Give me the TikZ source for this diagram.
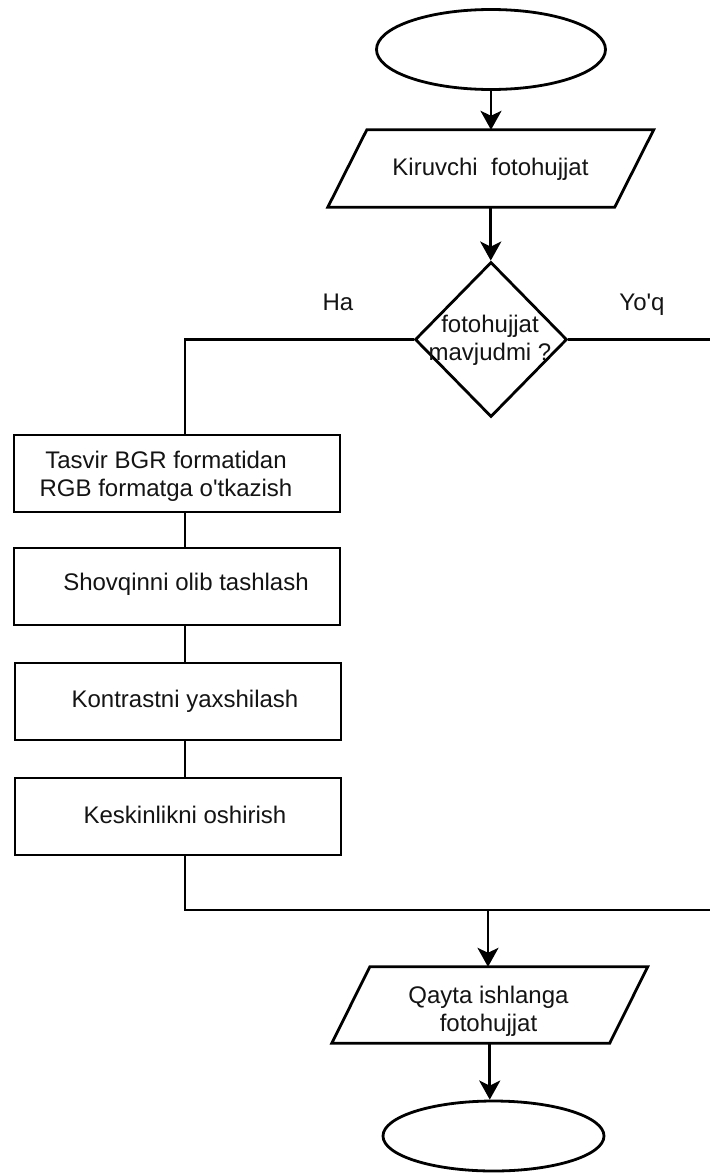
\documentclass[tikz,border=0pt]{standalone}
\usepackage{fontspec}
\setmainfont{Liberation Sans}[Ligatures=TeXOff]
\usetikzlibrary{shapes.geometric,arrows.meta}
\begin{document}
\begin{tikzpicture}[x=1pt,y=-1pt,
  line/.style={line width=2.8pt, draw=black},
  arr/.style={line, -{Stealth[length=19pt,width=21pt,inset=5pt]}},
  term/.style={ellipse, line, minimum width=229pt, minimum height=80pt, inner sep=0pt},
  proc/.style={rectangle, line, minimum width=326pt, minimum height=77pt, inner sep=0pt},
  dec/.style={diamond, line, minimum width=152pt, minimum height=155pt, inner sep=0pt},
  io/.style={rectangle, draw=none, inner sep=0pt},
  txt/.style={font=\fontsize{24}{28}\selectfont, text=black!92, inner sep=0pt, align=center},
  lbl/.style={txt, anchor=base}]
\useasboundingbox[fill=white] (0,0) rectangle (710,1173);

% start
\node[term] (s) at (491,49.5) {};

% input
\node[io, minimum width=286.5pt, minimum height=77pt] (p1) at (490.75,168.5) {};
\draw[line] ([xshift=19.5pt]p1.north west) -- ([xshift=19.5pt]p1.north east)
  -- ([xshift=-19.5pt]p1.south east) -- ([xshift=-19.5pt]p1.south west) -- cycle;
\node[lbl] (t1) at (490.5,175) {Kiruvchi\ \ fotohujjat};

% decision
\node[dec] (d) at (491,339.5) {};
\node[txt] (t2) at (490,340) {fotohujjat\\mavjudmi ?};
\node[lbl] (ha) at (338,310) {Ha};
\node[lbl] (yq) at (642,310) {Yo'q};

% process boxes
\node[proc] (b1) at (177,473.5) {};
\node[txt] (t3) at (166,476) {Tasvir BGR formatidan\\RGB formatga o'tkazish};
\node[proc] (b2) at (177,586.5) {};
\node[lbl] (t4) at (186,590) {Shovqinni olib tashlash};
\node[proc] (b3) at (178,701.5) {};
\node[lbl] (t5) at (185,707) {Kontrastni yaxshilash};
\node[proc] (b4) at (178,816.5) {};
\node[lbl] (t6) at (185,823) {Keskinlikni oshirish};

% output
\node[io, minimum width=277.5pt, minimum height=76pt] (p2) at (489.75,1005) {};
\draw[line] ([xshift=19pt]p2.north west) -- ([xshift=19pt]p2.north east)
  -- ([xshift=-19pt]p2.south east) -- ([xshift=-19pt]p2.south west) -- cycle;
\node[txt] (t7) at (488.5,1011) {Qayta ishlanga\\fotohujjat};

% end
\node[term, minimum width=221pt, minimum height=70pt] (e) at (493.5,1136) {};

% helper coordinates
\coordinate (cx) at (185,0);
\coordinate (rt) at (710,339.5);
\coordinate (jn) at (710,910);
\coordinate (ja) at (488,910);

% connectors
\draw[arr] (s.south) -- (s.south |- p1.north);
\draw[arr] (p1.south) -- (p1.south |- d.north);
\draw[line] (d.west) -| (b1.north -| cx);
\draw[line] (d.east) -- (rt);
\draw[line] (b1.south -| cx) -- (b2.north -| cx);
\draw[line] (b2.south -| cx) -- (b3.north -| cx);
\draw[line] (b3.south -| cx) -- (b4.north -| cx);
\draw[line] (b4.south -| cx) |- (jn);
\draw[arr] (ja) -- (ja |- p2.north);
\draw[arr] (p2.south) -- (p2.south |- e.north);
\end{tikzpicture}
\end{document}
